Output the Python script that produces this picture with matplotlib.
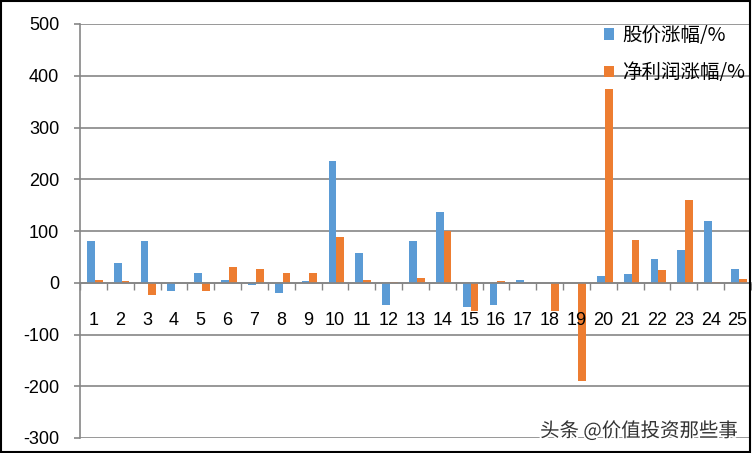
import matplotlib
matplotlib.use('Agg')
import matplotlib.pyplot as plt
import matplotlib.patheffects as pe
import numpy as np

plt.rcParams['font.family'] = ['Liberation Sans', 'Noto Sans CJK SC', 'DejaVu Sans']

# data
categories = [str(i) for i in range(1, 26)]
stock_rise = [80, 39, 80, -16, 18, 6, -5, -20, 4, 236, 57, -43, 80, 136, -47,
              -43, 6, 0, 0, 14, 16, 45, 64, 120, 26]
profit_rise = [6, 4, -24, 0, -16, 30, 26, 18, 18, 89, 6, 2, 10, 100, -55,
               4, 0, -55, -190, 375, 82, 24, 159, 2, 8]
yticks = [-300, -200, -100, 0, 100, 200, 300, 400, 500]

blue = '#5B9BD5'
orange = '#ED7D31'
grid_c = '#868686'

fig = plt.figure(figsize=(7.52, 4.53), dpi=100)
ax = fig.add_axes([80 / 752, 15 / 453, 671 / 752, 414 / 453])
ax.set_axisbelow(False)  # tick labels sit on top of the bars, like excel

x = np.arange(len(categories))
w = 0.29
ax.bar(x - w / 2 + 0.05, stock_rise, w, color=blue, label='股价涨幅/%', zorder=2)
ax.bar(x + w / 2 + 0.05, profit_rise, w, color=orange, label='净利润涨幅/%', zorder=2)

ax.set_xlim(-0.5, len(categories) - 0.5)
ax.set_ylim(-300, 500)
ax.set_yticks(yticks)
ax.set_yticklabels([str(v) for v in yticks], fontsize=13)
ax.tick_params(axis='y', length=4, color=grid_c, width=1.2, pad=11)
# gridlines kept under the bars
ax.hlines(yticks, -0.5, len(categories) - 0.5, colors=grid_c, linewidth=1.2, zorder=0.5)

# category axis crosses at zero
ax.spines['bottom'].set_position(('data', 0))
ax.spines['bottom'].set_color(grid_c)
ax.spines['bottom'].set_linewidth(1.2)
ax.set_xticks(x)
ax.set_xticklabels(categories, fontsize=13)
ax.set_xticks(np.arange(-0.5, len(categories), 1), minor=True)
ax.tick_params(axis='x', which='major', length=0, pad=21)
ax.tick_params(axis='x', which='minor', length=5, color=grid_c, width=1)
for s in ['top', 'right']:
    ax.spines[s].set_visible(False)
ax.spines['left'].set_color(grid_c)
ax.spines['left'].set_linewidth(1.2)

leg = ax.legend(loc='upper right', bbox_to_anchor=(1.017, 1.04), frameon=False,
                prop={'family': ['Noto Sans CJK SC', 'DejaVu Sans'], 'size': 14},
                handlelength=0.5, handleheight=0.5, handletextpad=0.4,
                labelspacing=0.85)

fig.text(0.982, 0.025, '头条 @价值投资那些事', ha='right', va='bottom',
         fontsize=14, color='#333333', family=['Noto Sans CJK SC', 'DejaVu Sans'],
         path_effects=[pe.withStroke(linewidth=2.5, foreground='white')])

# outer frame
fig.patches.append(plt.Rectangle((0.001, 0.002), 0.997, 0.995, transform=fig.transFigure,
                                 fill=False, edgecolor='black', linewidth=1.5))

fig.savefig('out.png', dpi=100)
